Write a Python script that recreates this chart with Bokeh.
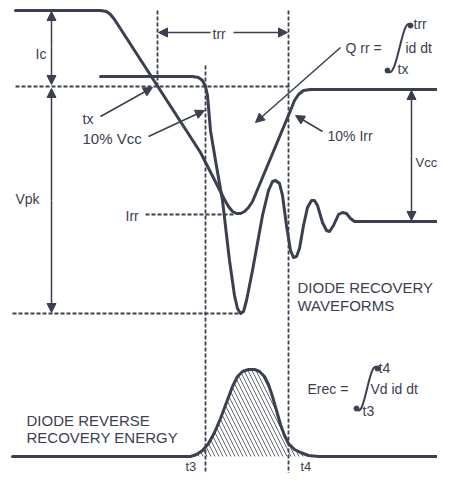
from bokeh.plotting import figure
from bokeh.models import Range1d, Arrow, NormalHead, ColumnDataSource
from bokeh.core.properties import value
from bokeh.embed import file_html
from bokeh.resources import INLINE

INK = "#3b4050"

# current waveform (Ic -> Irr -> back)
cur_x = [15, 100, 106, 110, 114, 200, 224, 228, 232, 236, 240, 244, 248, 252, 290, 294, 298, 303, 310, 453]
cur_y = [10, 10, 11, 14, 19, 152, 199, 206, 211, 213, 213, 211, 207, 201, 110, 100, 94, 90, 89, 89]

# voltage waveform with ringing
vol_x = [100, 192, 198, 202, 205, 207, 210, 215, 222, 229, 234, 237, 240, 243, 246, 252, 262, 268, 272, 275,
         279, 282, 286, 290, 293, 296, 299, 303, 307, 311, 314, 317, 322, 326, 329, 333, 338, 342, 346, 350,
         354, 360, 453]
vol_y = [76, 76, 77, 80, 86, 95, 130, 160, 200, 260, 295, 308, 313, 311, 300, 270, 215, 190, 181, 180,
         183, 195, 225, 250, 257, 256, 248, 225, 207, 200, 200, 205, 222, 230, 231, 225, 214, 212, 213, 218,
         221, 221, 221]

# reverse recovery energy pulse
en_x = [12, 190, 196, 202, 208, 214, 220, 226, 232, 237, 242, 248, 254, 259, 264, 268, 272, 276, 280, 284,
        288, 294, 300, 308, 318, 453]
en_y = [456, 456, 454, 450, 443, 432, 418, 402, 386, 376, 371, 369, 369, 371, 376, 384, 396, 410, 424, 435,
        443, 449, 452, 455, 456, 456]

# dashed reference lines: (x0, y0, x1, y1)
dash_x0 = [15, 157, 205, 288, 145, 12]
dash_y0 = [86, 10, 65, 10, 214, 313]
dash_x1 = [290, 157, 205, 288, 233, 240]
dash_y1 = [86, 86, 489, 489, 214, 313]

# arrows: (x_start, y_start, x_end, y_end)
arr = [
    (51, 46, 51, 11), (51, 46, 51, 84),
    (51, 200, 51, 88), (51, 200, 51, 312),
    (411, 155, 411, 90), (411, 155, 411, 220),
    (210, 32, 158, 32), (233, 32, 287, 32),
    (100, 116, 152, 87),
    (148, 136, 204, 110),
    (340, 47, 255, 122),
    (322, 131, 295, 115),
]

labels = ["Ic", "Vpk", "tx", "10% Vcc", "trr", "Q rr =", "id dt", "trr", "tx", "10% Irr", "Irr", "Vcc",
          "DIODE RECOVERY", "WAVEFORMS", "DIODE REVERSE", "RECOVERY ENERGY", "t3", "t4",
          "Erec =", "Vd id dt", "t4", "t3"]
lab_x = [35, 15, 82, 82, 212, 345, 405, 413, 397, 327, 125, 415,
         297, 297, 26, 26, 185, 300,
         307, 370, 378, 362]
lab_y = [53, 198, 118, 138, 33, 47, 47, 23, 68, 135, 215, 162,
         287, 305, 420, 437, 466, 466,
         388, 388, 367, 410]
lab_size = ["14px", "14px", "14px", "15px", "14px", "14px", "14px", "14px", "14px", "14px", "14px", "13px",
            "15px", "15px", "15px", "15px", "13px", "13px",
            "14px", "14px", "14px", "14px"]

# integral signs (bezier): start, control 1, control 2, end
int_x0 = [410, 377]
int_y0 = [25, 368]
int_cx0 = [402, 369]
int_cy0 = [12, 355]
int_cx1 = [396, 364]
int_cy1 = [84, 422]
int_x1 = [387, 356]
int_y1 = [70, 408]

p = figure(width=437, height=473, output_backend="svg", toolbar_location=None,
           x_range=Range1d(0, 437), y_range=Range1d(473, 0), min_border=0)
p.axis.visible = False
p.grid.visible = False
p.outline_line_color = None
p.background_fill_color = "white"
p.border_fill_color = "white"

# hatch under energy pulse
hx = en_x[1:-1]
hy = en_y[1:-1]
p.patch(hx, hy, fill_color=None, line_color=None, hatch_pattern="\\", hatch_color=INK,
        hatch_scale=8, hatch_weight=1, hatch_alpha=0.8)

p.segment(dash_x0, dash_y0, dash_x1, dash_y1, line_color=INK, line_width=1.8, line_dash="4 2")

for xs, ys in [(cur_x, cur_y), (vol_x, vol_y), (en_x, en_y)]:
    p.line(xs, ys, line_color=INK, line_width=3, line_join="round", line_cap="round")

for x0, y0, x1, y1 in arr:
    p.add_layout(Arrow(x_start=x0, y_start=y0, x_end=x1, y_end=y1, line_color=INK, line_width=1.5,
                       end=NormalHead(size=9, fill_color=INK, line_color=INK, line_width=1)))

p.bezier(int_x0, int_y0, int_x1, int_y1, int_cx0, int_cy0, int_cx1, int_cy1, line_color=INK, line_width=2)
p.scatter(int_x0 + int_x1, int_y0 + int_y1, size=5, color=INK)

src = ColumnDataSource(dict(x=lab_x, y=lab_y, t=labels, s=lab_size))
p.text("x", "y", text="t", source=src, text_font=value("Liberation Sans"), text_font_size="s",
       text_color=INK, text_align="left", text_baseline="middle")

open("out.html", "w").write(file_html(p, INLINE))
